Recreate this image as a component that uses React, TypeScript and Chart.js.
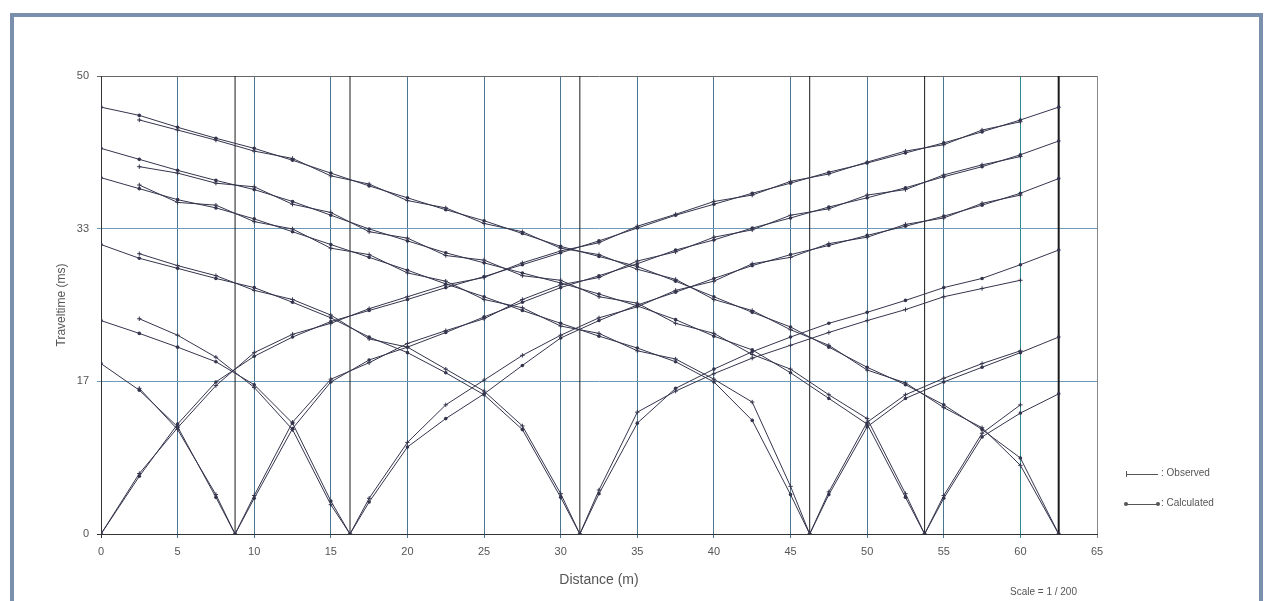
import React, { useEffect, useRef } from 'react';
import { Chart, registerables } from 'chart.js';

Chart.register(...registerables);

// Geophone / station distances (m)
const distances = [0, 2.5, 5, 7.5, 10, 12.5, 15, 17.5, 20, 22.5, 25, 27.5, 30, 32.5, 35, 37.5, 40, 42.5, 45, 47.5, 50, 52.5, 55, 57.5, 60, 62.5];
// Shot point positions (m)
const shotPositions = [0, 8.75, 16.25, 31.25, 46.25, 53.75, 62.5];
// Y axis ticks (ms)
const yTickValues = [0, 16.67, 33.33, 50];
const yTickLabels = ['0', '17', '33', '50'];

// Traveltimes (ms) per shot, at each distance above (null = no reading)
const calcShot0 = [0, 6.3, 12.0, 16.6, 19.4, 21.5, 23.2, 24.4, 25.6, 26.9, 28.1, 29.4, 30.7, 32.0, 33.4, 34.8, 36.0, 37.2, 38.3, 39.5, 40.5, 41.6, 42.7, 43.9, 45.2, 46.6];
const obsShot0 = [0, 6.6, 11.6, 16.2, 19.8, 21.8, 23.0, 24.6, 25.9, 27.2, 28.0, 29.6, 30.9, 31.8, 33.6, 34.9, 36.3, 37.0, 38.5, 39.3, 40.6, 41.8, 42.5, 44.1, 45.0, null];

const calcShot8 = [18.6, 15.7, 11.7, 4.0, 3.9, 11.5, 16.6, 19.0, 20.4, 22.0, 23.7, 25.3, 26.9, 28.2, 29.5, 31.0, 32.1, 33.4, 34.5, 35.7, 36.7, 37.8, 39.0, 40.1, 41.4, 42.9];
const obsShot8 = [null, 15.9, 11.4, 4.3, 4.2, 12.2, 16.9, 18.7, 20.8, 22.2, 23.5, 25.6, 27.2, 28.0, 29.8, 30.8, 32.4, 33.2, 34.8, 35.5, 37.0, 37.6, 39.2, 40.3, 41.2, null];

const calcShot16 = [23.3, 21.9, 20.4, 18.8, 16.3, 12.1, 3.6, 3.5, 9.5, 12.6, 15.3, 18.4, 21.4, 23.3, 25.0, 26.4, 27.9, 29.3, 30.5, 31.5, 32.6, 33.6, 34.7, 35.9, 37.2, 38.8];
const obsShot16 = [null, 23.5, 21.7, 19.3, 16.0, 11.4, 3.2, 3.9, 10.0, 14.1, 16.8, 19.5, 21.7, 23.6, 24.8, 26.6, 27.6, 29.5, 30.2, 31.7, 32.4, 33.8, 34.5, 36.1, 37.0, null];

const calcShot31 = [31.6, 30.1, 29.0, 27.9, 26.9, 25.3, 23.6, 21.5, 19.8, 17.6, 15.2, 11.4, 4.0, 4.4, 12.1, 15.9, 18.0, 19.9, 21.5, 23.0, 24.2, 25.5, 26.9, 27.9, 29.4, 31.0];
const obsShot31 = [null, 30.6, 29.3, 28.2, 26.6, 25.6, 23.9, 21.3, 20.4, 18.0, 15.6, 11.8, 4.4, 4.8, 13.3, 15.6, 17.5, 19.2, 20.6, 22.0, 23.3, 24.5, 25.9, 26.8, 27.7, null];

const calcShot46 = [38.9, 37.7, 36.5, 35.6, 34.4, 33.0, 31.6, 30.2, 28.8, 27.3, 25.9, 24.4, 23.0, 21.6, 20.3, 18.8, 16.6, 12.4, 4.3, 4.3, 11.7, 14.8, 16.6, 18.2, 19.8, 21.5];
const obsShot46 = [null, 38.1, 36.2, 35.9, 34.1, 33.3, 31.2, 30.5, 28.5, 27.6, 25.6, 24.7, 22.7, 21.9, 20.0, 19.1, 16.9, 14.4, 5.2, 4.6, 12.2, 15.2, 17.0, 18.6, 20.0, null];

const calcShot53 = [42.1, 40.9, 39.7, 38.6, 37.6, 36.3, 34.8, 33.3, 32.0, 30.7, 29.6, 28.5, 27.4, 26.2, 24.9, 23.4, 21.6, 20.1, 17.6, 14.8, 12.0, 4.0, 3.9, 10.6, 13.2, 15.3];
const obsShot53 = [null, 40.1, 39.4, 38.3, 37.9, 36.0, 35.1, 33.0, 32.3, 30.4, 29.9, 28.2, 27.7, 25.9, 25.2, 23.0, 21.9, 19.6, 18.0, 15.2, 12.6, 4.4, 4.2, 11.0, 14.1, null];

const calcShot62 = [46.6, 45.7, 44.4, 43.2, 42.1, 40.8, 39.4, 38.0, 36.7, 35.4, 34.2, 32.8, 31.4, 30.3, 29.2, 27.6, 25.9, 24.2, 22.6, 20.4, 18.2, 16.3, 14.1, 11.4, 8.3, 0];
const obsShot62 = [null, 45.2, 44.1, 43.0, 41.8, 41.0, 39.1, 38.2, 36.4, 35.6, 33.9, 33.0, 31.2, 30.5, 28.9, 27.8, 25.6, 24.4, 22.3, 20.6, 17.9, 16.5, 13.8, 11.6, 7.5, 0];

const calcSeries = [calcShot0, calcShot8, calcShot16, calcShot31, calcShot46, calcShot53, calcShot62];
const obsSeries = [obsShot0, obsShot8, obsShot16, obsShot31, obsShot46, obsShot53, obsShot62];

const FONT = '"Liberation Sans", Arial, sans-serif';
const LINE = '#34354d';

function toPoints(pos: number, arr: (number | null)[]) {
  const pts: { x: number; y: number }[] = [];
  distances.forEach((d, i) => {
    const v = arr[i];
    if (v !== null && v !== undefined) pts.push({ x: d, y: v });
  });
  if (!distances.includes(pos)) pts.push({ x: pos, y: 0 });
  pts.sort((a, b) => a.x - b.x);
  return pts;
}

function xGridColor(v: number | undefined) {
  if (v === 0) return '#333';
  if (v === 60) return '#2a8a8e';
  if (v === 65) return '#888';
  return '#4b7591';
}

function yGridColor(v: number | undefined) {
  if (v === 0) return '#333';
  if (v === 50) return '#666';
  return '#6f9bb8';
}

export default function App() {
  const ref = useRef<HTMLCanvasElement | null>(null);

  useEffect(() => {
    if (!ref.current) return;
    const datasets: any[] = [];
    shotPositions.forEach((pos, i) => {
      datasets.push({
        label: 'Calculated ' + pos,
        data: toPoints(pos, calcSeries[i]),
        borderColor: LINE,
        backgroundColor: LINE,
        borderWidth: 1,
        pointStyle: 'circle',
        pointRadius: 1.8,
        pointBorderWidth: 0,
        tension: 0,
        order: 2,
      });
      datasets.push({
        label: 'Observed ' + pos,
        data: toPoints(pos, obsSeries[i]),
        borderColor: LINE,
        backgroundColor: LINE,
        borderWidth: 1,
        pointStyle: 'cross',
        pointRadius: 2.2,
        pointBorderWidth: 1,
        tension: 0,
        order: 1,
      });
    });
    shotPositions.forEach((pos) => {
      if (pos === 0) return;
      datasets.push({
        label: 'Shot ' + pos,
        data: [{ x: pos, y: 0 }, { x: pos, y: 50 }],
        borderColor: '#1a1a1a',
        borderWidth: pos === 62.5 ? 2 : 1,
        pointRadius: 0,
        order: 10,
      });
    });

    const chart = new Chart(ref.current, {
      type: 'line',
      data: { datasets },
      options: {
        animation: false,
        responsive: false,
        layout: { padding: { left: 0, right: 174, top: 76, bottom: 7 } },
        plugins: { legend: { display: false }, tooltip: { enabled: false } },
        scales: {
          x: {
            type: 'linear',
            min: 0,
            max: 65,
            ticks: { stepSize: 5, color: '#555', font: { family: FONT, size: 11 }, padding: 7, maxRotation: 0, autoSkip: false },
            grid: { color: (c: any) => xGridColor(c.tick?.value), lineWidth: 1, tickLength: 4 },
            border: { color: '#333', width: 1 },
            title: { display: true, text: 'Distance (m)', color: '#555', font: { family: FONT, size: 14 }, padding: { top: 0, bottom: 5 } },
            afterFit: (s: any) => { s.height = 60; },
          } as any,
          y: {
            type: 'linear',
            min: 0,
            max: 50,
            afterBuildTicks: (s: any) => { s.ticks = yTickValues.map((v) => ({ value: v })); },
            ticks: { callback: (_v: any, i: number) => yTickLabels[i], color: '#555', font: { family: FONT, size: 11 }, padding: 8 },
            grid: { color: (c: any) => yGridColor(c.tick?.value), lineWidth: 1, tickLength: 4 },
            border: { color: '#333', width: 1 },
            title: { display: true, text: 'Traveltime (ms)', color: '#555', font: { family: FONT, size: 12 }, padding: { top: 54, bottom: 0 } },
            afterFit: (s: any) => { s.width = 101; },
          } as any,
        },
      },
    });
    return () => chart.destroy();
  }, []);

  const textStyle: React.CSSProperties = { position: 'absolute', fontFamily: FONT, color: '#555', whiteSpace: 'nowrap' };

  return (
    <div style={{ position: 'absolute', left: 0, top: 0, width: 1271, height: 601, overflow: 'hidden', background: '#fff' }}>
      <div style={{ position: 'absolute', left: 10, top: 13, width: 1253, height: 700, border: '4px solid #7a8fab', boxSizing: 'border-box' }} />
      <canvas ref={ref} width={1271} height={601} style={{ position: 'absolute', left: 0, top: 0, width: 1271, height: 601 }} />
      {/* legend */}
      <div style={{ position: 'absolute', left: 1126, top: 474, width: 32, height: 1, background: '#555' }} />
      <div style={{ position: 'absolute', left: 1126, top: 471, width: 1, height: 6, background: '#555' }} />
      <div style={{ ...textStyle, left: 1161, top: 467, fontSize: 10 }}>: Observed</div>
      <div style={{ position: 'absolute', left: 1126, top: 504, width: 32, height: 1, background: '#555' }} />
      <div style={{ position: 'absolute', left: 1124, top: 502, width: 4, height: 4, borderRadius: 2, background: '#555' }} />
      <div style={{ position: 'absolute', left: 1156, top: 502, width: 4, height: 4, borderRadius: 2, background: '#555' }} />
      <div style={{ ...textStyle, left: 1161, top: 497, fontSize: 10 }}>: Calculated</div>
      <div style={{ ...textStyle, left: 1010, top: 586, fontSize: 10 }}>Scale = 1 / 200</div>
    </div>
  );
}
